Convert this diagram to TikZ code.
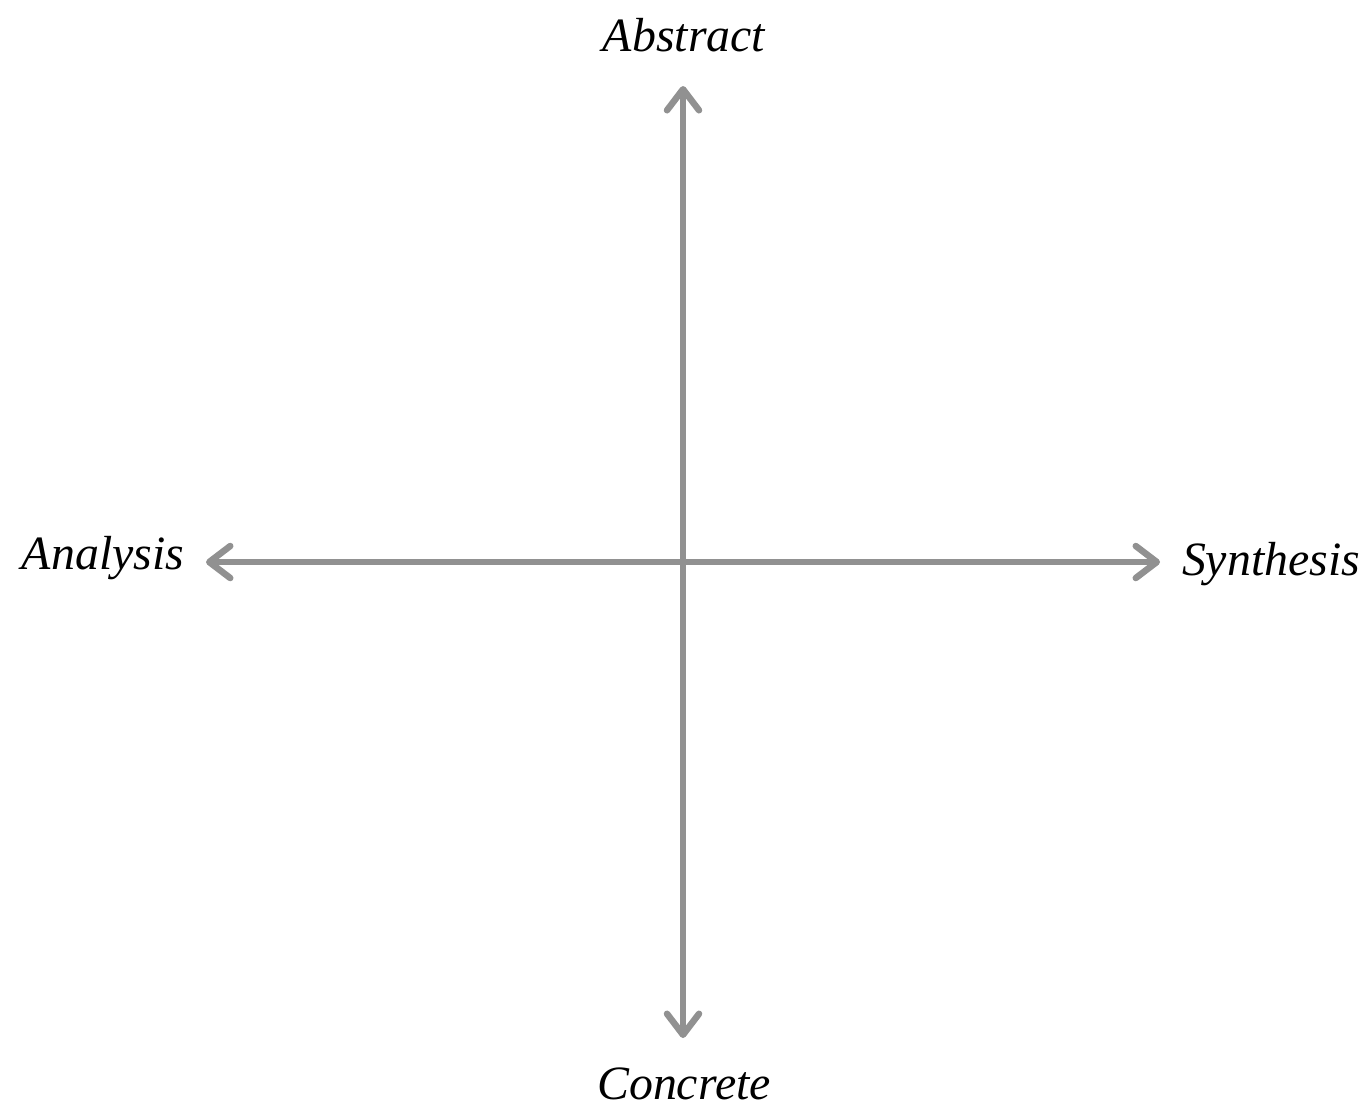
\documentclass[tikz,border=0pt]{standalone}
\usepackage{fontspec}
\setmainfont{Liberation Serif}
\usetikzlibrary{arrows.meta}
\begin{document}
\begin{tikzpicture}[x=0.01cm,y=-0.01cm,
  axis/.style={draw=black!43,line width=0.055cm,line cap=round,{Straight Barb[round,length=0.21cm,width=0.32cm,line width=0.065cm]}-{Straight Barb[round,length=0.21cm,width=0.32cm,line width=0.065cm]}},
  lbl/.style={font=\fontsize{13.6}{16}\selectfont\itshape,inner sep=0pt}]
\useasboundingbox (0,0) rectangle (1371,1111);
\node[lbl] (abstract) at (684,35) {Abstract};
\node[lbl] (concrete) at (684,1084) {Concrete};
\node[lbl] (analysis) at (103,558) {Analysis};
\node[lbl] (synthesis) at (1271,564) {Synthesis};
\coordinate (top) at (683,86);
\coordinate (bottom) at (683,1038);
\coordinate (left) at (206,562);
\coordinate (right) at (1160,562);
\draw[axis] (bottom) -- (top);
\draw[axis] (left) -- (right);
\end{tikzpicture}
\end{document}
